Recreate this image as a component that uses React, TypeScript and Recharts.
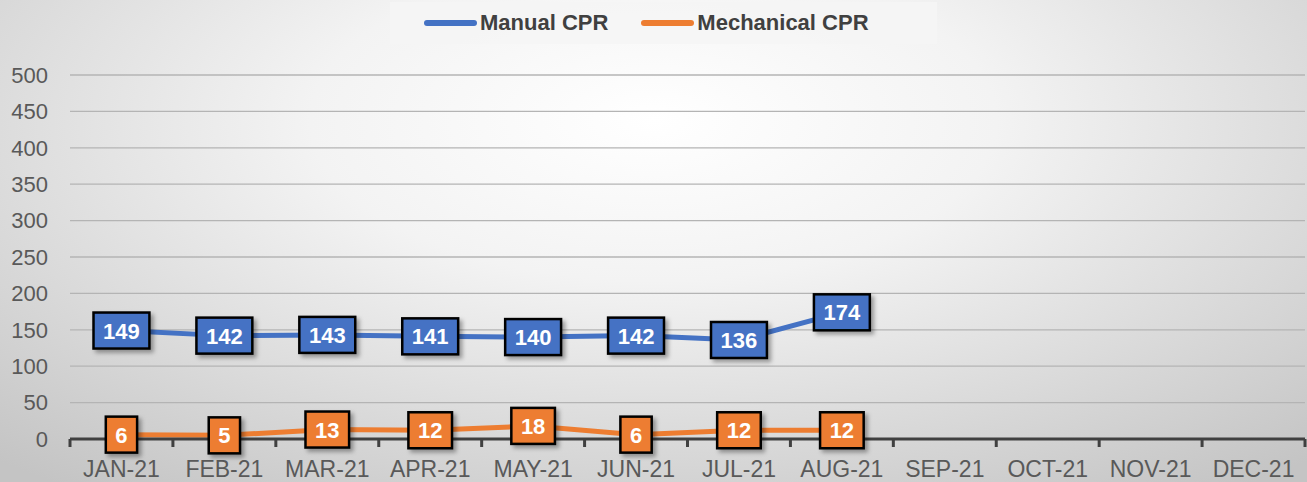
import React from "react";
import { LineChart, Line, XAxis, YAxis, CartesianGrid } from "recharts";

const months = ["JAN-21", "FEB-21", "MAR-21", "APR-21", "MAY-21", "JUN-21", "JUL-21", "AUG-21", "SEP-21", "OCT-21", "NOV-21", "DEC-21"];
const manualCPR: (number | null)[] = [149, 142, 143, 141, 140, 142, 136, 174, null, null, null, null];
const mechanicalCPR: (number | null)[] = [6, 5, 13, 12, 18, 6, 12, 12, null, null, null, null];
const yTicks = [0, 50, 100, 150, 200, 250, 300, 350, 400, 450, 500];

const data = months.map((m, i) => ({ month: m, manual: manualCPR[i], mechanical: mechanicalCPR[i] }));

const W = 1307;
const H = 482;
const M = { top: 75, right: 2, left: 0, bottom: 0 };
const Y_W = 70;
const BW = (W - M.left - M.right - Y_W) / months.length;
const FONT = "'Liberation Sans', Arial, sans-serif";
const BLUE = "#4472C4";
const ORANGE = "#ED7D31";

const BoxLabel = (props: any) => {
  const { x, y, value, boxColor } = props;
  if (value === null || value === undefined || x == null || y == null) return null;
  const s = String(value);
  const w = s.length * 12.3 + 19;
  const h = 36;
  return (
    <g>
      <rect x={x - w / 2} y={y - h / 2} width={w} height={h} fill={boxColor} stroke="#000" strokeWidth={2.5} filter="url(#lblShadow)" />
      <text x={x} y={y + 8} textAnchor="middle" fill="#fff" fontSize={22} fontWeight="bold" fontFamily={FONT}>
        {s}
      </text>
    </g>
  );
};

const XTick = (props: any) => {
  const { x, y, payload, index } = props;
  const last = index === months.length - 1;
  return (
    <g>
      <line x1={x - BW / 2} x2={x - BW / 2} y1={y - 8} y2={y} stroke="#404040" strokeWidth={3} />
      {last && <line x1={x + BW / 2} x2={x + BW / 2} y1={y - 8} y2={y} stroke="#404040" strokeWidth={3} />}
      <text x={x} y={y + 30} textAnchor="middle" fill="#595959" fontSize={23} fontFamily={FONT}>
        {payload.value}
      </text>
    </g>
  );
};

export default function App() {
  return (
    <div
      style={{
        position: "absolute",
        left: 0,
        top: 0,
        width: W,
        height: H,
        overflow: "hidden",
        background: "radial-gradient(ellipse 75% 95% at 50% 25%, #ffffff 0%, #f3f3f3 35%, #c4c4c4 100%)",
        fontFamily: FONT,
      }}
    >
      <svg width={0} height={0} style={{ position: "absolute" }}>
        <defs>
          <filter id="lblShadow" x="-30%" y="-30%" width="170%" height="170%">
            <feDropShadow dx={3} dy={3} stdDeviation={2} floodColor="#000" floodOpacity={0.35} />
          </filter>
        </defs>
      </svg>
      <div
        style={{
          position: "absolute",
          left: 390,
          top: 2,
          width: 547,
          height: 42,
          background: "rgba(245,245,245,0.9)",
          display: "flex",
          alignItems: "center",
          fontSize: 22,
          fontWeight: "bold",
          color: "#404040",
        }}
      >
        <span style={{ display: "inline-block", width: 53, height: 6, borderRadius: 3, background: BLUE, marginLeft: 34, marginRight: 3 }} />
        <span>Manual CPR</span>
        <span style={{ display: "inline-block", width: 53, height: 6, borderRadius: 3, background: ORANGE, marginLeft: 33, marginRight: 3 }} />
        <span>Mechanical CPR</span>
      </div>
      <LineChart width={W} height={H} data={data} margin={M}>
        <CartesianGrid vertical={false} stroke="#b4b4b4" strokeWidth={1.3} />
        <XAxis
          dataKey="month"
          scale="band"
          axisLine={{ stroke: "#404040", strokeWidth: 3 }}
          tickLine={false}
          tickSize={8}
          tickMargin={0}
          height={43}
          interval={0}
          tick={<XTick />}
        />
        <YAxis
          domain={[0, 500]}
          ticks={yTicks}
          width={Y_W}
          axisLine={false}
          tickLine={false}
          tickSize={0}
          tickMargin={22}
          tick={{ fill: "#595959", fontSize: 22, fontFamily: FONT }}
          interval={0}
        />
        <Line
          type="linear"
          dataKey="manual"
          stroke={BLUE}
          strokeWidth={5}
          dot={false}
          isAnimationActive={false}
          label={<BoxLabel boxColor={BLUE} />}
        />
        <Line
          type="linear"
          dataKey="mechanical"
          stroke={ORANGE}
          strokeWidth={5}
          dot={false}
          isAnimationActive={false}
          label={<BoxLabel boxColor={ORANGE} />}
        />
      </LineChart>
    </div>
  );
}
